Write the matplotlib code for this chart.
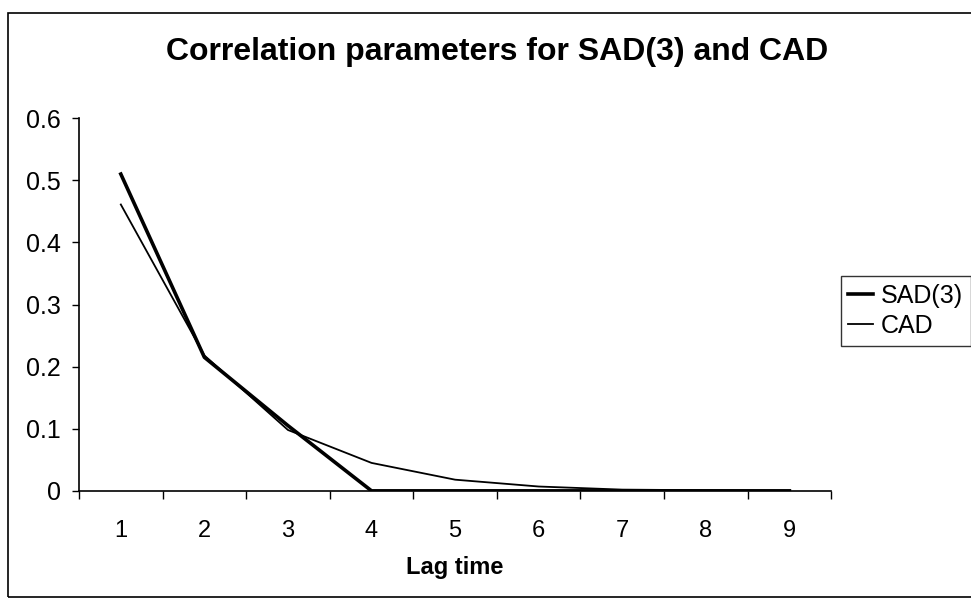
import matplotlib.pyplot as plt
import numpy as np
from matplotlib.patches import Rectangle

# values
lag = [1, 2, 3, 4, 5, 6, 7, 8, 9]
sad3 = [0.51, 0.215, 0.105, 0.0, 0.0, 0.0, 0.0, 0.0, 0.0]
cad = [0.461, 0.218, 0.098, 0.045, 0.018, 0.007, 0.002, 0.001, 0.0]
yticks = [0, 0.1, 0.2, 0.3, 0.4, 0.5, 0.6]
ylabels = ['0', '0.1', '0.2', '0.3', '0.4', '0.5', '0.6']

plt.rcParams['font.family'] = ['Liberation Sans', 'DejaVu Sans']

fig = plt.figure(figsize=(9.71, 6.06), dpi=100)
ax = fig.add_axes([0.0814, 0.19, 0.7746, 0.615])

x = np.arange(len(lag))
ax.plot(x, sad3, color='black', linewidth=2.6, label='SAD(3)')
ax.plot(x, cad, color='black', linewidth=1.3, label='CAD')

ax.set_xlim(-0.5, len(lag) - 0.5)
ax.set_ylim(0, 0.6)
ax.set_yticks(yticks)
ax.set_yticklabels(ylabels, fontsize=18)
ax.set_xticks(x)
ax.set_xticklabels([str(v) for v in lag], fontsize=17)
ax.set_xticks(np.arange(len(lag) + 1) - 0.5, minor=True)
ax.tick_params(axis='x', which='major', length=0, pad=21)
ax.tick_params(axis='x', which='minor', length=6, direction='out', width=1)
ax.tick_params(axis='y', length=5, direction='out', width=1, pad=8)

for s in ['top', 'right']:
    ax.spines[s].set_visible(False)
for s in ['left', 'bottom']:
    ax.spines[s].set_linewidth(1.2)

ax.set_xlabel('Lag time', fontsize=17, fontweight='bold', labelpad=10)
fig.text(0.512, 0.901, 'Correlation parameters for SAD(3) and CAD',
         ha='center', va='baseline', fontsize=23, fontweight='bold')

leg = fig.legend(loc='center left', bbox_to_anchor=(0.866, 0.487), fontsize=18,
                 frameon=True, fancybox=False, edgecolor='black',
                 handlelength=1.0, handletextpad=0.3, borderpad=0.3,
                 borderaxespad=0, labelspacing=0.25)
leg.get_frame().set_linewidth(1.0)

# outer chart border
fig.patches.append(Rectangle((0.008, 0.015), 1.2, 0.963, transform=fig.transFigure,
                             fill=False, edgecolor='black', linewidth=1.2))

fig.savefig('out.png', dpi=100)
